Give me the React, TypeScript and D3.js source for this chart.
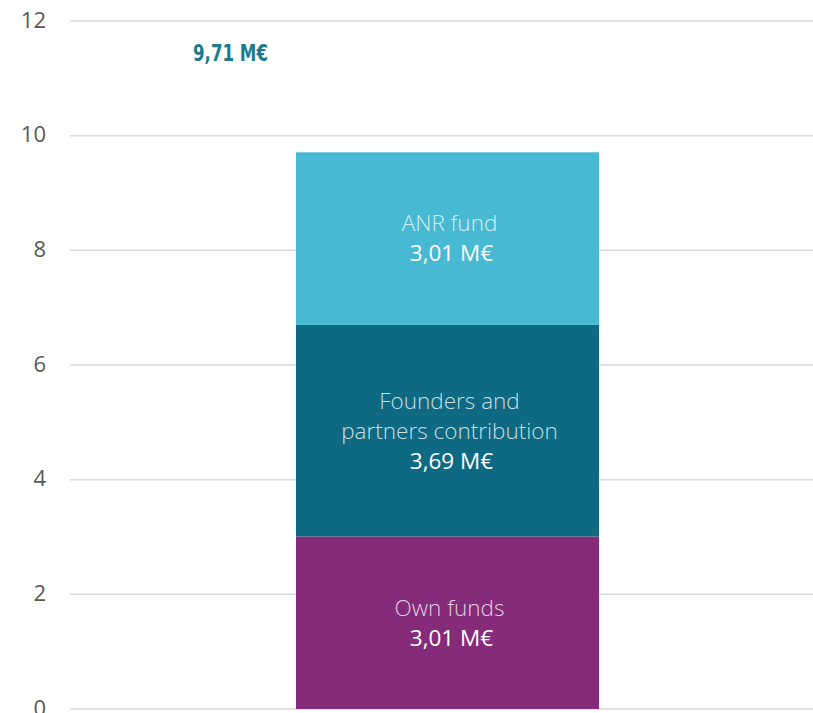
import React from "react";
import * as d3 from "d3";

const categories = ["Own funds", "Founders and partners contribution", "ANR fund"];
const labelLines = [["Own funds"], ["Founders and", "partners contribution"], ["ANR fund"]];
const values = [3.01, 3.69, 3.01];
const valueLabels = ["3,01 M€", "3,69 M€", "3,01 M€"];
const totalLabel = "9,71 M€";
const yTicks = [0, 2, 4, 6, 8, 10, 12];
const colors = ["#852B7A", "#0E6A82", "#47B9D3"];

export default function App() {
  const W = 813, H = 713;
  const y = d3.scaleLinear().domain([0, 12]).range([709, 21]);
  const bx = 296, bw = 303;
  let acc = 0;
  const segs = values.map((v, i) => {
    const s = { i, y0: acc, y1: acc + v };
    acc += v;
    return s;
  });
  const lineH = 30;
  return (
    <svg width={W} height={H} style={{ position: "absolute", left: 0, top: 0 }} fontFamily="'Open Sans', sans-serif">
      {yTicks.map((t) => (
        <g key={t}>
          <line x1={70} x2={813} y1={y(t)} y2={y(t)} stroke="#d9d9d9" strokeWidth={1.5} />
          <text x={46} y={y(t) - 1} dy="0.35em" textAnchor="end" fontSize={22} fill="#595959">{t}</text>
        </g>
      ))}
      {segs.map((s) => (
        <rect key={s.i} x={bx} width={bw} y={y(s.y1)} height={y(s.y0) - y(s.y1)} fill={colors[s.i]} />
      ))}
      {segs.map((s) => {
        const lines = labelLines[s.i];
        const n = lines.length + 1;
        const mid = (y(s.y0) + y(s.y1)) / 2;
        const start = mid - ((n - 1) * lineH) / 2;
        const cx = bx + bw / 2 + 2;
        return (
          <g key={"l" + s.i}>
            {lines.map((l, j) => (
              <text key={j} x={cx} y={start + j * lineH} dy="0.35em" textAnchor="middle" fontSize={22.5} fontWeight={300} fill="#ffffff" fillOpacity={0.78}>{l}</text>
            ))}
            <text x={cx + 2} y={start + lines.length * lineH} dy="0.35em" textAnchor="middle" fontSize={22.5} fill="#ffffff">{valueLabels[s.i]}</text>
          </g>
        );
      })}
      <text x={193} y={53} dy="0.35em" fontSize={23} fontWeight="bold" fontFamily="'DejaVu Sans Condensed', sans-serif" fill="#1B7A8E" textLength={75} lengthAdjust="spacingAndGlyphs">{totalLabel}</text>
    </svg>
  );
}
